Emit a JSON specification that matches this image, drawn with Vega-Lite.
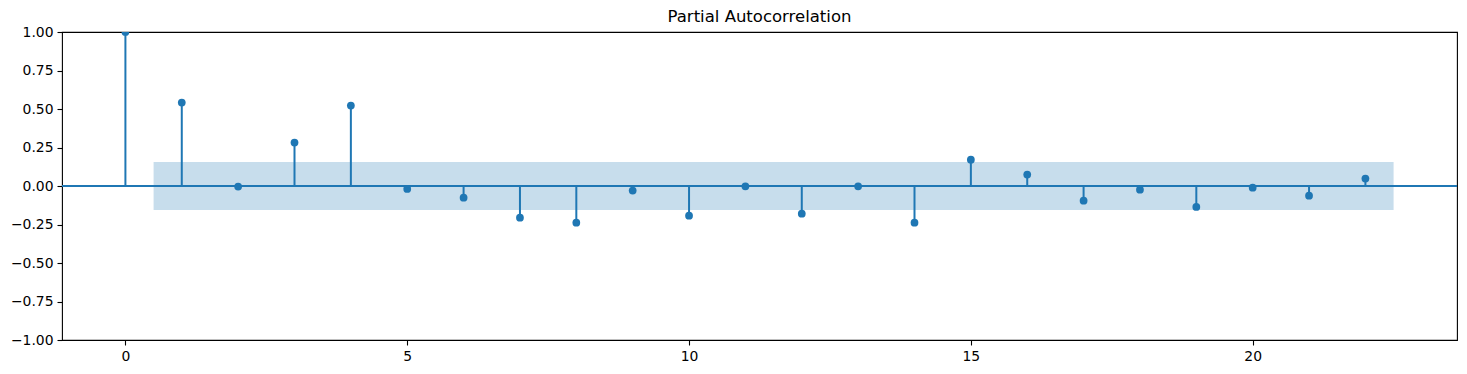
{
  "$schema": "https://vega.github.io/schema/vega-lite/v6.json",
  "width": 1395,
  "height": 308,
  "autosize": {"type": "none"},
  "padding": {"left": 62, "top": 32, "right": 10, "bottom": 34},
  "title": {"text": "Partial Autocorrelation", "font": "DejaVu Sans", "fontSize": 16.5, "fontWeight": "normal", "color": "#000000", "offset": 0, "anchor": "middle"},
  "config": {
    "view": {"stroke": "#000000", "strokeWidth": 1.1},
    "axis": {
      "grid": false, "domain": false, "tickColor": "#000000", "tickSize": 5, "tickWidth": 1.1,
      "labelFont": "DejaVu Sans", "labelFontSize": 13.9, "labelColor": "#000000", "labelPadding": 4,
      "labelOverlap": false, "labelBound": false, "labelFlush": false,
      "title": null
    }
  },
  "datasets": {
    "pacf": [
      {"lag": 0, "value": 1.0},
      {"lag": 1, "value": 0.542},
      {"lag": 2, "value": -0.004},
      {"lag": 3, "value": 0.282},
      {"lag": 4, "value": 0.522},
      {"lag": 5, "value": -0.019},
      {"lag": 6, "value": -0.076},
      {"lag": 7, "value": -0.206},
      {"lag": 8, "value": -0.238},
      {"lag": 9, "value": -0.030},
      {"lag": 10, "value": -0.193},
      {"lag": 11, "value": -0.002},
      {"lag": 12, "value": -0.180},
      {"lag": 13, "value": -0.002},
      {"lag": 14, "value": -0.238},
      {"lag": 15, "value": 0.171},
      {"lag": 16, "value": 0.074},
      {"lag": 17, "value": -0.095},
      {"lag": 18, "value": -0.024},
      {"lag": 19, "value": -0.136},
      {"lag": 20, "value": -0.011},
      {"lag": 21, "value": -0.063},
      {"lag": 22, "value": 0.048}
    ],
    "band": [
      {"start": 0.5, "end": 22.5, "lo": -0.156, "hi": 0.156}
    ]
  },
  "layer": [
    {
      "data": {"name": "band"},
      "mark": {"type": "rect", "fill": "#1f77b4", "opacity": 0.25},
      "encoding": {
        "x": {"field": "start", "type": "quantitative", "scale": {"domain": [-1.125, 23.625], "nice": false, "zero": false}, "axis": {"values": [0, 5, 10, 15, 20], "format": "d", "labelOverlap": false}},
        "x2": {"field": "end"},
        "y": {"field": "lo", "type": "quantitative", "scale": {"domain": [-1, 1], "nice": false}, "axis": {"values": [-1, -0.75, -0.5, -0.25, 0, 0.25, 0.5, 0.75, 1], "format": ".2f", "labelOverlap": false, "tickCount": 9}},
        "y2": {"field": "hi"}
      }
    },
    {
      "data": {"name": "pacf"},
      "mark": {"type": "rule", "color": "#1f77b4", "strokeWidth": 2},
      "encoding": {
        "x": {"field": "lag", "type": "quantitative"},
        "y": {"field": "value", "type": "quantitative"},
        "y2": {"datum": 0}
      }
    },
    {
      "data": {"values": [{"z": 0}]},
      "mark": {"type": "rule", "color": "#1f77b4", "strokeWidth": 2},
      "encoding": {
        "y": {"field": "z", "type": "quantitative"}
      }
    },
    {
      "data": {"name": "pacf"},
      "mark": {"type": "circle", "color": "#1f77b4", "opacity": 1, "size": 60, "clip": true},
      "encoding": {
        "x": {"field": "lag", "type": "quantitative"},
        "y": {"field": "value", "type": "quantitative"}
      }
    }
  ]
}
